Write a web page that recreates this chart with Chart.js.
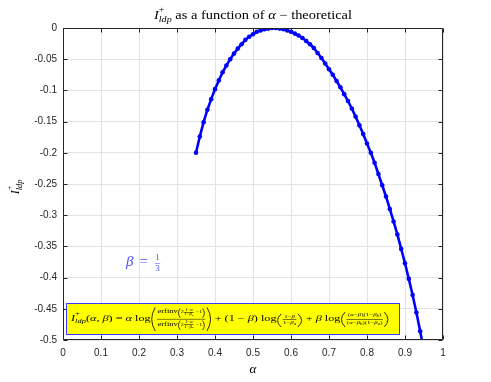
<!DOCTYPE html>
<html>
<head>
<meta charset="utf-8">
<script src="https://cdn.jsdelivr.net/npm/chart.js@4.4.1/dist/chart.umd.min.js"></script>
<style>body{margin:0;background:#fff}</style>
</head>
<body>
<canvas id="chart" width="491" height="382"></canvas>
<script>
// valores
var alpha = [0.35, 0.36, 0.37, 0.38, 0.39, 0.40, 0.41, 0.42, 0.43, 0.44,
             0.45, 0.46, 0.47, 0.48, 0.49, 0.50, 0.51, 0.52, 0.53, 0.54,
             0.55, 0.56, 0.57, 0.58, 0.59, 0.60, 0.61, 0.62, 0.63, 0.64,
             0.65, 0.66, 0.67, 0.68, 0.69, 0.70, 0.71, 0.72, 0.73, 0.74,
             0.75, 0.76, 0.77, 0.78, 0.79, 0.80, 0.81, 0.82, 0.83, 0.84,
             0.85, 0.86, 0.87, 0.88, 0.89, 0.90, 0.91, 0.92, 0.93, 0.94, 0.95];
var iLdp = [-0.200, -0.174, -0.151, -0.131, -0.114, -0.098, -0.084, -0.071, -0.060, -0.050,
            -0.041, -0.033, -0.026, -0.019, -0.014, -0.010, -0.006, -0.004, -0.002, -0.001,
             0.000,  0.000, -0.001, -0.002, -0.004, -0.006, -0.009, -0.012, -0.016, -0.021,
            -0.026, -0.032, -0.040, -0.048, -0.057, -0.066, -0.075, -0.085, -0.095, -0.106,
            -0.117, -0.129, -0.142, -0.156, -0.170, -0.185, -0.200, -0.216, -0.234, -0.252,
            -0.270, -0.290, -0.310, -0.331, -0.354, -0.377, -0.402, -0.428, -0.456, -0.486, -0.518];
var xTicks = [0, 0.1, 0.2, 0.3, 0.4, 0.5, 0.6, 0.7, 0.8, 0.9, 1];
var xTickLabels = ['0', '0.1', '0.2', '0.3', '0.4', '0.5', '0.6', '0.7', '0.8', '0.9', '1'];
var yTicks = [0, -0.05, -0.1, -0.15, -0.2, -0.25, -0.3, -0.35, -0.4, -0.45, -0.5];
var yTickLabels = ['0', '-0.05', '-0.1', '-0.15', '-0.2', '-0.25', '-0.3', '-0.35', '-0.4', '-0.45', '-0.5'];

var AXIS = '#262626';
var SERIF = '"Liberation Serif", "DejaVu Serif", serif';
var mctx = document.createElement('canvas').getContext('2d');

// mini "latex": cajas con ancho, alto sobre y bajo la linea base
function fnt(size, it) { return (it ? 'italic ' : '') + size + 'px ' + SERIF; }
function tx(s, size, it) {
    mctx.font = fnt(size, it);
    return { w: mctx.measureText(s).width, up: size * 0.7, dn: size * 0.22,
        draw: function (c, x, y) { c.font = fnt(size, it); c.fillText(s, x, y); } };
}
function sp(w) { return { w: w, up: 0, dn: 0, draw: function () {} }; }
function row() {
    var items = Array.prototype.slice.call(arguments);
    var b = { w: 0, up: 0, dn: 0 };
    items.forEach(function (it) { b.w += it.w; b.up = Math.max(b.up, it.up); b.dn = Math.max(b.dn, it.dn); });
    b.draw = function (c, x, y) { items.forEach(function (it) { it.draw(c, x, y); x += it.w; }); };
    return b;
}
// texto con partes en italica: '*α' -> italica
function m(parts, size) {
    return row.apply(null, parts.map(function (p) {
        return p.charAt(0) === '*' ? tx(p.slice(1), size, true) : tx(p, size, false);
    }));
}
function frac(num, den, size) {
    var ax = size * 0.3, g = size * 0.15, w = Math.max(num.w, den.w) + size * 0.3;
    return { w: w, up: ax + g + num.dn + num.up, dn: den.up + den.dn + g - ax,
        draw: function (c, x, y) {
            num.draw(c, x + (w - num.w) / 2, y - ax - g - num.dn);
            den.draw(c, x + (w - den.w) / 2, y - ax + g + den.up);
            c.fillRect(x + size * 0.1, y - ax - 0.3, w - size * 0.2, Math.max(0.5, size * 0.06));
        } };
}
function scr(base, sup, sub) {
    var w = base.w + Math.max(sup ? sup.w : 0, sub ? sub.w : 0);
    return { w: w, up: base.up + (sup ? sup.up * 0.7 : 0), dn: base.dn + (sub ? sub.dn + base.up * 0.3 : 0),
        draw: function (c, x, y) {
            base.draw(c, x, y);
            if (sup) sup.draw(c, x + base.w, y - base.up * 0.8);
            if (sub) sub.draw(c, x + base.w, y + base.up * 0.4);
        } };
}
function par(inner, size) {
    var pw = size * 0.45;
    return { w: inner.w + 2 * pw, up: inner.up + 1, dn: inner.dn + 1,
        draw: function (c, x, y) {
            var t = y - inner.up - 0.5, b = y + inner.dn + 0.5, mid = (t + b) / 2;
            var xl = x + pw * 0.85, xr = x + pw + inner.w + pw * 0.15;
            c.lineWidth = Math.max(0.6, size * 0.08);
            c.beginPath();
            c.moveTo(xl, t); c.quadraticCurveTo(x - pw * 0.45, mid, xl, b);
            c.moveTo(xr, t); c.quadraticCurveTo(x + 2 * pw + inner.w + pw * 0.45, mid, xr, b);
            c.stroke();
            inner.draw(c, x + pw, y);
        } };
}
function iPlus(size) {
    return scr(tx('I', size, true), tx('+', size * 0.7), tx('ldp', size * 0.7, true));
}
function bsub(l, size) { return scr(tx('β', size, true), null, tx(l, size * 0.7, true)); }

function buildFormula() {
    var s = 8.5, f = 6, ff = 4.2;
    var inner = function (l) {
        return row(tx('2', ff), frac(m(['1−', '*α'], ff * 0.8), row(tx('1−', ff * 0.8), bsub(l, ff * 0.8)), ff * 0.8), tx(' −1', ff));
    };
    var num1 = row(tx('erfinv', f), par(inner('b'), ff));
    var den1 = row(tx('erfinv', f), par(inner('a'), ff));
    return row(
        iPlus(s), m(['(', '*α', ', ', '*β', ') = ', '*α', ' log'], s),
        par(frac(num1, den1, f), s),
        m([' + (1 − ', '*β', ') log'], s),
        par(frac(m(['1−', '*β'], f * 0.8), row(tx('1−', f * 0.8), bsub('a', f * 0.8)), f * 0.8), s),
        m([' + ', '*β', ' log'], s),
        par(frac(row(m(['(', '*α', '−', '*β', ')(1−'], f * 0.8), bsub('b', f * 0.8), tx(')', f * 0.8)),
                 row(m(['(', '*α', '−'], f * 0.8), bsub('b', f * 0.8), tx(')(1−', f * 0.8), bsub('a', f * 0.8), tx(')', f * 0.8)), f * 0.8), s)
    );
}

var extras = {
    id: 'extras',
    afterDraw: function (chart) {
        var c = chart.ctx, a = chart.chartArea, sx = chart.scales.x, sy = chart.scales.y;
        var L = Math.round(a.left) + 0.5, R = Math.round(a.right) - 0.5;
        var T = Math.round(a.top) + 0.5, B = Math.round(a.bottom) - 0.5;
        c.save();
        c.strokeStyle = AXIS; c.lineWidth = 1;
        c.beginPath();
        c.rect(L, T, R - L, B - T);
        xTicks.forEach(function (v) {
            var px = Math.round(sx.getPixelForValue(v)) + 0.5;
            c.moveTo(px, B); c.lineTo(px, B - 4);
            c.moveTo(px, T); c.lineTo(px, T + 4);
        });
        yTicks.forEach(function (v) {
            var py = Math.round(sy.getPixelForValue(v)) + 0.5;
            c.moveTo(L, py); c.lineTo(L + 4, py);
            c.moveTo(R, py); c.lineTo(R - 4, py);
        });
        c.stroke();

        // cuadro amarillo con la formula
        c.fillStyle = '#ffff00';
        c.fillRect(66, 303, 334, 32);
        c.strokeStyle = '#3a3aff';
        c.strokeRect(66.5, 303.5, 333, 31);
        var fm = buildFormula();
        c.fillStyle = '#000'; c.strokeStyle = '#000';
        c.textBaseline = 'alphabetic'; c.textAlign = 'left';
        c.save();
        c.translate(71, 321);
        c.scale(318 / fm.w, 1);
        fm.draw(c, 0, 0);
        c.restore();

        // beta = 1/3
        c.fillStyle = '#4d4dff';
        var bt = row(tx('β', 15, true), sp(6), tx('=', 15), sp(6), frac(tx('1', 9), tx('3', 9), 9));
        bt.draw(c, 126, 266);

        // titulo (estirado al ancho del original)
        c.fillStyle = '#000';
        var title = row(iPlus(12), tx(' as a function of ', 12), tx('α', 12, true), tx(' − theoretical', 12));
        c.save();
        c.translate((a.left + a.right) / 2 - 99, 19);
        c.scale(198 / title.w, 1);
        title.draw(c, 0, 0);
        c.restore();

        // etiquetas de ejes
        var xl = tx('α', 13, true);
        xl.draw(c, (a.left + a.right) / 2 - xl.w / 2, 373);
        var yl = iPlus(12);
        c.save();
        c.translate(19, (a.top + a.bottom) / 2 + 3);
        c.rotate(-Math.PI / 2);
        yl.draw(c, -yl.w / 2, 0);
        c.restore();
        c.restore();
    }
};

var ctx = document.getElementById('chart').getContext('2d');
var chart = new Chart(ctx, {
    type: 'line',
    data: {
        datasets: [{
            data: alpha.map(function (x, i) { return { x: x, y: iLdp[i] }; }),
            borderColor: '#0000ff',
            backgroundColor: '#0000ff',
            borderWidth: 2.6,
            pointRadius: 2.3,
            pointBorderWidth: 0,
            pointBackgroundColor: '#0000ff',
            tension: 0,
            clip: 0
        }]
    },
    options: {
        responsive: false,
        animation: false,
        devicePixelRatio: 1,
        layout: { padding: { top: 28, right: 48, left: 0, bottom: 0 } },
        plugins: { legend: { display: false }, title: { display: false }, tooltip: { enabled: false } },
        scales: {
            x: {
                type: 'linear', min: 0, max: 1,
                afterFit: function (s) { s.height = 42; },
                afterBuildTicks: function (s) { s.ticks = xTicks.map(function (v) { return { value: v }; }); },
                grid: { color: '#e3e3e3', drawTicks: false },
                border: { display: false },
                ticks: {
                    padding: 7, color: AXIS, maxRotation: 0,
                    font: { family: '"Liberation Sans", Arial, sans-serif', size: 10 },
                    callback: function (v, i) { return xTickLabels[i]; }
                }
            },
            y: {
                type: 'linear', min: -0.5, max: 0,
                afterFit: function (s) { s.width = 63; },
                afterBuildTicks: function (s) { s.ticks = yTicks.map(function (v) { return { value: v }; }); },
                grid: { color: '#e3e3e3', drawTicks: false },
                border: { display: false },
                ticks: {
                    padding: 6, color: AXIS,
                    font: { family: '"Liberation Sans", Arial, sans-serif', size: 10 },
                    callback: function (v, i) { return yTickLabels[i]; }
                }
            }
        }
    },
    plugins: [extras]
});
</script>
</body>
</html>
